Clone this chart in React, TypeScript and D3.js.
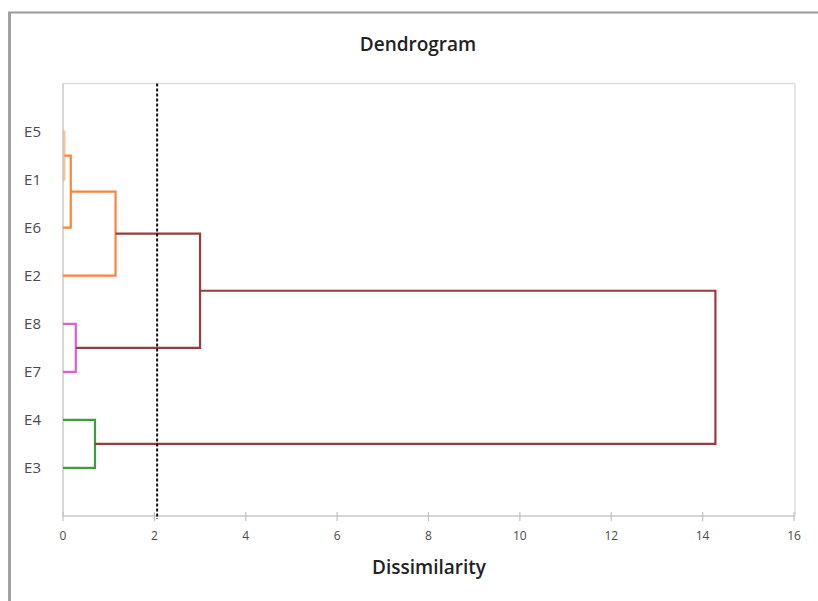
import React from "react";
import * as d3 from "d3";

const leaves: string[] = ["E5", "E1", "E6", "E2", "E8", "E7", "E4", "E3"];
// merges: [childA, childB, height]; child ids: leaf index (0..7) or "m<k>"
const mergeA: (number | string)[] = [0, "m0", "m1", 4, 6, "m2", "m5"];
const mergeB: (number | string)[] = [1, 2, 3, 5, 7, "m3", "m4"];
const mergeHeight: number[] = [0.03, 0.17, 1.15, 0.28, 0.70, 3.0, 14.28];
const mergeColor: string[] = ["#F9A76C", "#F7853A", "#F7853A", "#E060C6", "#3E9E3E", "#9B3B3B", "#9B3B3B"];
const xTicks: number[] = [0, 2, 4, 6, 8, 10, 12, 14, 16];
const cutLevel = 2.06;
const title = "Dendrogram";
const xTitle = "Dissimilarity";

export default function App() {
  const x = d3.scaleLinear().domain([0, 16]).range([63, 794]);
  const y = d3.scaleLinear().domain([0, 9]).range([83.5, 516]);

  const pos: Record<string, { x: number; y: number }> = {};
  leaves.forEach((_, i) => (pos[String(i)] = { x: x(0), y: y(i + 1) }));
  const paths: { d: string; color: string; op: number }[] = [];
  mergeHeight.forEach((h, k) => {
    const a = pos[String(mergeA[k])];
    const b = pos[String(mergeB[k])];
    const xm = x(h);
    const p = d3.path();
    p.moveTo(a.x, a.y);
    p.lineTo(xm, a.y);
    p.lineTo(xm, b.y);
    p.lineTo(b.x, b.y);
    paths.push({ d: p.toString(), color: mergeColor[k], op: k === 0 ? 0.7 : 1 });
    pos["m" + k] = { x: xm, y: (a.y + b.y) / 2 };
  });

  const font = "'Open Sans', 'DejaVu Sans', sans-serif";
  return (
    <svg width={818} height={601} style={{ position: "absolute", left: 0, top: 0, background: "#fff" }}>
      <rect x={0} y={0} width={818} height={601} fill="#fff" />
      {/* outer frame */}
      <line x1={8} x2={818} y1={12.5} y2={12.5} stroke="#9a9a9a" strokeWidth={2} />
      <line x1={9.5} x2={9.5} y1={12} y2={601} stroke="#a0a0a0" strokeWidth={3} />
      {/* plot border */}
      <line x1={63} x2={795} y1={83.5} y2={83.5} stroke="#dedede" strokeWidth={1.5} />
      <line x1={795} x2={795} y1={83.5} y2={516} stroke="#dedede" strokeWidth={1.5} />
      <line x1={63} x2={63} y1={83.5} y2={516} stroke="#c8c8c8" strokeWidth={1.5} />
      <line x1={63} x2={795} y1={516} y2={516} stroke="#c8c8c8" strokeWidth={1.5} />
      {xTicks.map((t) => (
        <g key={t}>
          <line x1={x(t)} x2={x(t)} y1={512} y2={521} stroke="#c0c0c0" strokeWidth={1.2} />
          <text x={x(t)} y={540} textAnchor="middle" fontSize={12} fontFamily={font} fill="#4a4a4a">
            {t}
          </text>
        </g>
      ))}
      {leaves.map((l, i) => (
        <text key={l} x={41} y={y(i + 1) + 5} textAnchor="end" fontSize={15} fontFamily={font} fill="#4a4a4a">
          {l}
        </text>
      ))}
      {paths.map((p, i) => (
        <path key={i} d={p.d} fill="none" stroke={p.color} strokeOpacity={p.op} strokeWidth={2.2} />
      ))}
      <line
        x1={x(cutLevel)}
        x2={x(cutLevel)}
        y1={83.5}
        y2={519}
        stroke="#111"
        strokeWidth={2}
        strokeDasharray="3,2"
      />
      <text x={418} y={51} textAnchor="middle" fontSize={19} fontWeight={600} fontFamily={font} fill="#222">
        {title}
      </text>
      <text x={429} y={574} textAnchor="middle" fontSize={19} fontWeight={600} fontFamily={font} fill="#222">
        {xTitle}
      </text>
    </svg>
  );
}
